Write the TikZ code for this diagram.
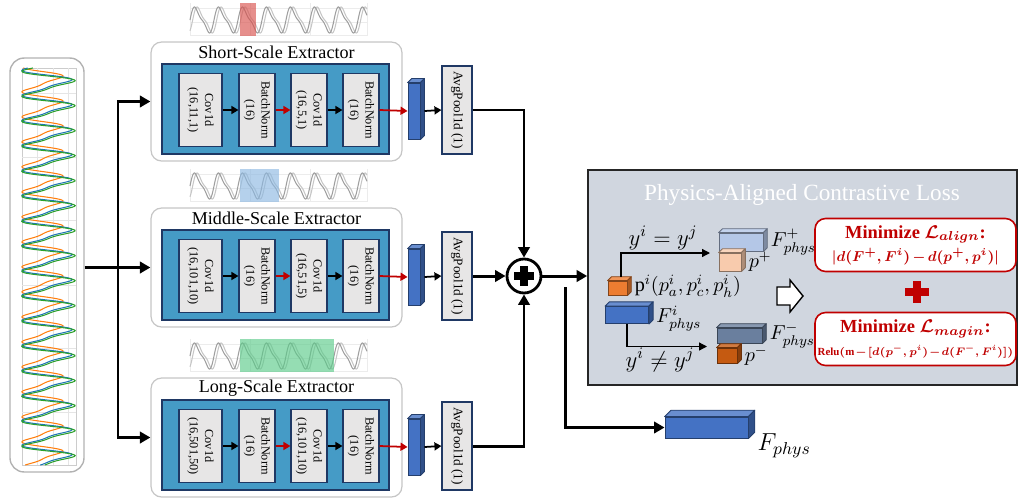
\RequirePackage{fix-cm}
\documentclass[tikz,border=0pt]{standalone}
\usepackage{amsmath, amssymb}
\usepackage{graphicx}
\usepackage{fontspec}
\setmainfont{Liberation Serif}
\usetikzlibrary{arrows.meta, positioning}

\definecolor{navy}{HTML}{1F3864}
\definecolor{stageblue}{HTML}{459BC6}
\definecolor{layergray}{HTML}{E7E6E6}
\definecolor{featblue}{HTML}{4472C4}
\definecolor{lossgray}{HTML}{D0D6DF}
\definecolor{lossred}{HTML}{C00000}
\definecolor{porange}{HTML}{ED7D31}
\definecolor{lightblue}{HTML}{B4C7E7}
\definecolor{peach}{HTML}{F8CBAD}
\definecolor{slate}{HTML}{6A7F9E}
\definecolor{darkorange}{HTML}{C55A11}
\definecolor{hlred}{HTML}{D9534F}
\definecolor{hlblue}{HTML}{8DB9E2}
\definecolor{hlgreen}{HTML}{5CCB8A}
\definecolor{sigblue}{HTML}{1F77B4}
\definecolor{sigorange}{HTML}{FF7F0E}
\definecolor{siggreen}{HTML}{2CA02C}

\newcommand{\vlabel}[1]{\rotatebox{-90}{\begin{tabular}{@{}c@{}}#1\end{tabular}}}
% name, position, width, height, depth, colour
\newcommand{\cuboid}[6]{%
  \node[draw=#6!55!black, fill=#6, minimum width=#3, minimum height=#4, inner sep=0pt, line width=0.5pt] (#1) at (#2) {};
  \draw[draw=#6!55!black, fill=#6!80!white, line width=0.5pt, line join=round] (#1.north west) -- ([shift={(#5,#5)}]#1.north west) -- ([shift={(#5,#5)}]#1.north east) -- (#1.north east) -- cycle;
  \draw[draw=#6!55!black, fill=#6!70!black, line width=0.5pt, line join=round] (#1.north east) -- ([shift={(#5,#5)}]#1.north east) -- ([shift={(#5,#5)}]#1.south east) -- (#1.south east) -- cycle;
}

\begin{document}
\begin{tikzpicture}[x=0.02cm, y=-0.02cm,
  extbox/.style={draw=gray!45, fill=white, rounded corners=6pt, line width=0.7pt, minimum width=5.02cm, minimum height=2.38cm},
  stage/.style={draw=navy, fill=stageblue, line width=0.7pt, minimum width=4.54cm, minimum height=1.8cm},
  layer/.style={draw=navy, fill=layergray, line width=0.6pt, inner sep=0pt, minimum width=0.72cm, minimum height=1.46cm, font=\fontsize{7}{8.6}\selectfont},
  pool/.style={draw=navy, fill=layergray, line width=0.6pt, inner sep=0pt, minimum width=0.6cm, minimum height=1.76cm, font=\fontsize{7.5}{9}\selectfont},
  mainarrow/.style={line width=1.7pt, -{Triangle[length=6pt,width=6.5pt]}},
  linkarrow/.style={line width=1pt, -{Triangle[length=4pt,width=4.5pt]}},
  thinarrow/.style={line width=0.7pt, -{Triangle[length=4.5pt,width=4.5pt]}},
  mathlab/.style={font=\fontsize{11.5}{13}\selectfont, inner sep=0pt},
  goalbox/.style={draw=lossred, fill=white, rounded corners=6pt, line width=0.9pt, minimum width=4.02cm, minimum height=1.06cm, inner sep=1pt, align=center, text=lossred}
]
\useasboundingbox (0,0) rectangle (1021,501);

% input signals
\node[draw=gray!60, rounded corners=8pt, line width=0.8pt, minimum width=1.48cm, minimum height=8.28cm] (sig) at (47,265) {};
\draw[gray!40, line width=0.4pt] (22,68) rectangle (76,465);
\foreach \gx in {37,53,68} \draw[gray!20] (\gx,68) -- (\gx,465);
\foreach \gy in {93,157,220,285,348,412} \draw[gray!20] (22,\gy) -- (76,\gy);
\draw[sigorange, line width=0.6pt] plot[domain=68:465, samples=500, variable=\t] ({42.5+20.5*(sin(14.4*\t+50)+0.3*sin(28.8*\t+100))/1.13},\t);
\draw[sigblue, line width=0.6pt] plot[domain=68:465, samples=500, variable=\t] ({47+25*(sin(14.4*\t)+0.3*sin(28.8*\t))/1.13},\t);
\draw[siggreen, line width=0.6pt] plot[domain=68:465, samples=500, variable=\t] ({48.5+26.5*(sin(14.4*\t-15)+0.3*sin(28.8*\t-30))/1.13},\t);

% three extractors
\foreach \i/\dy/\rowname/\ka/\kb/\hcol/\hx in {
    1/0/Short/{(16,11,1)}/{(16,5,1)}/hlred/256,
    2/166/Middle/{(16,101,10)}/{(16,51,5)}/hlblue/279,
    3/336/Long/{(16,501,50)}/{(16,101,10)}/hlgreen/334}{
  \begin{scope}[shift={(0,\dy)}]
    \foreach \gx in {190,250,310,367} \draw[gray!15] (\gx,3) -- (\gx,36);
    \foreach \gy in {8,22,35} \draw[gray!15] (190,\gy) -- (367,\gy);
    \draw[gray!45, line width=0.6pt] plot[domain=190:367, samples=200] (\x,{20-13*(sin(15*(\x-190)-40)+0.3*sin(30*(\x-190)-80))/1.13});
    \draw[gray!75, line width=0.6pt] plot[domain=190:367, samples=200] (\x,{20-13*(sin(15*(\x-190))+0.3*sin(30*(\x-190)))/1.13});
    \fill[fill=\hcol, opacity=0.65] (240,3) rectangle (\hx,36);
  \end{scope}
  \node[extbox] (ext\i) at (276.5,101.5+\dy) {};
  \node[font=\fontsize{10.3}{12}\selectfont] (title\i) at (276.5,52+\dy) {\rowname-Scale Extractor};
  \node[stage] (stg\i) at (275.5,109+\dy) {};
  \node[layer, minimum width=0.86cm] (cva\i) at (200.5,110+\dy) {\vlabel{Cov1d\\\ka}};
  \node[layer] (bna\i) at (257,110+\dy) {\vlabel{BatchNorm\\(16)}};
  \node[layer] (cvb\i) at (309,110+\dy) {\vlabel{Cov1d\\\kb}};
  \node[layer] (bnb\i) at (361,110+\dy) {\vlabel{BatchNorm\\(16)}};
  \cuboid{feat\i}{414,111+\dy}{0.24cm}{1.12cm}{2.3pt}{featblue}
  \node[pool] (pool\i) at (457,110+\dy) {\vlabel{AvgPool1d (1)}};
  \draw[linkarrow] (cva\i) -- (bna\i);
  \draw[linkarrow, lossred] (bna\i) -- (cvb\i);
  \draw[linkarrow] (cvb\i) -- (bnb\i);
  \draw[linkarrow, lossred] (bnb\i.east) -- (feat\i.west);
  \draw[linkarrow] ([xshift=2.3pt]feat\i.east) -- (pool\i.west);
}

\coordinate (split) at (118,267.5);
\draw[mainarrow] (sig.east |- split) -- (ext2.west);
\draw[mainarrow] (split) |- (ext1.west);
\draw[mainarrow] (split) |- (ext3.west);

% fusion
\node[circle, draw, line width=1.6pt, minimum size=0.68cm, inner sep=0pt,
  path picture={\fill (path picture bounding box.center) +(-5.5pt,-2pt) rectangle +(5.5pt,2pt);
                \fill (path picture bounding box.center) +(-2pt,-5.5pt) rectangle +(2pt,5.5pt);}] (sum) at (524,276) {};
\draw[mainarrow] (pool1.east) -| (sum.north);
\draw[mainarrow] (pool2.east) -- (sum.west);
\draw[mainarrow] (pool3.east) -| (sum.south);

% loss panel
\node[draw=gray!30!black, fill=lossgray, line width=1pt, minimum width=8.58cm, minimum height=4.3cm] (loss) at (802.5,277.5) {};
\node[text=white, font=\fontsize{13.2}{15}\selectfont] (losstitle) at (802,195) {Physics-Aligned Contrastive Loss};
\draw[mainarrow] (sum.east) -- (sum.east -| loss.west);

\cuboid{pi}{617.5,288}{0.38cm}{0.28cm}{2.2pt}{porange}
\cuboid{fi}{627,315}{0.86cm}{0.34cm}{2.4pt}{featblue}
\cuboid{fplus}{741,242}{0.88cm}{0.36cm}{2.2pt}{lightblue}
\cuboid{pplus}{730,262}{0.44cm}{0.36cm}{2.2pt}{peach}
\cuboid{fminus}{739.5,335.5}{0.9cm}{0.3cm}{2.2pt}{slate}
\cuboid{pminus}{727,355.5}{0.4cm}{0.3cm}{2.2pt}{darkorange}

\node[mathlab, right=4pt of pi, yshift=1pt] (pilab) {$\mathrm{p}^i(p_a^i,p_c^i,p_h^i)$};
\node[mathlab, right=4pt of fi, yshift=-2pt] (filab) {$F^{i}_{phys}$};
\node[mathlab, right=4pt of fplus] (fpluslab) {$F^{+}_{phys}$};
\node[mathlab, right=4pt of pplus] (ppluslab) {$p^{+}$};
\node[mathlab, right=4pt of fminus] (fminuslab) {$F^{-}_{phys}$};
\node[mathlab, right=4pt of pminus] (pminuslab) {$p^{-}$};

\coordinate (posend) at (710,253);
\coordinate (negend) at (707,346.5);
\draw[thinarrow] ([shift={(2pt,2.2pt)}]pi.north) |- (posend);
\draw[thinarrow] (fi.south) |- (negend);
\node[mathlab, font=\fontsize{13}{15}\selectfont] (eqlab) at (663,238) {$y^i=y^j$};
\node[mathlab, font=\fontsize{13}{15}\selectfont] (neqlab) at (660,360) {$y^i\neq y^j$};

\draw[line width=0.8pt, fill=white, line join=miter] (777,287) -- (790,287) -- (790,280) -- (803,296) -- (790,312) -- (790,305) -- (777,305) -- cycle;

\node[goalbox] (aligngoal) at (915.5,245) {{\fontsize{10.5}{12}\selectfont\bfseries Minimize $\boldsymbol{\mathcal{L}_{align}}$:}\\[1pt]
  {\fontsize{8.2}{10}\selectfont\medmuskip=2.5mu$\boldsymbol{|d(F^{+},F^{i})-d(p^{+},p^{i})|}$}};
\fill[lossred] (905,288) rectangle (929,296);
\fill[lossred] (913,281) rectangle (921,303);
\node[goalbox] (margingoal) at (915.5,339) {{\fontsize{10.5}{12}\selectfont\bfseries Minimize $\boldsymbol{\mathcal{L}_{magin}}$:}\\[1pt]
  {\fontsize{6.2}{8}\selectfont\medmuskip=1.5mu\bfseries Relu$\boldsymbol{(\mathrm{m}-[d(p^{-},p^{i})-d(F^{-},F^{i})])}$}};

% output feature
\cuboid{outb}{706.5,427.5}{1.66cm}{0.42cm}{3.6pt}{featblue}
\node[font=\fontsize{14}{16}\selectfont, anchor=west, inner sep=1pt] (outlab) at ([shift={(4pt,-4pt)}]outb.south east) {$F_{phys}$};
\coordinate (tap) at (565,287);
\draw[mainarrow] (tap) |- (outb.west);
\end{tikzpicture}
\end{document}
